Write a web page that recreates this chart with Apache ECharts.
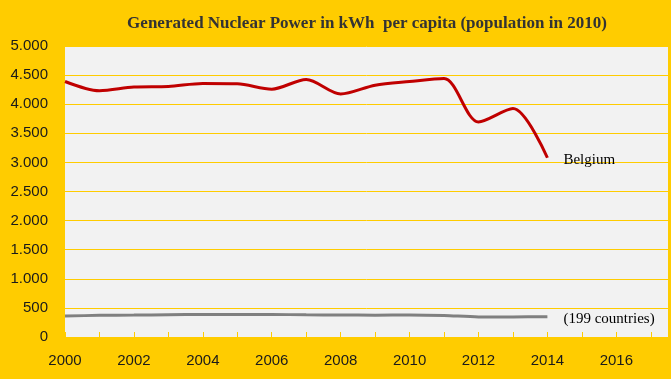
<!DOCTYPE html>
<html>
<head>
<meta charset="utf-8">
<script src="https://cdn.jsdelivr.net/npm/echarts@6/dist/echarts.min.js"></script>
<style>html,body{margin:0;padding:0;background:#FFCC00}#c{width:671px;height:379px}</style>
</head>
<body>
<div id="c"></div>
<script>
var years = [2000,2001,2002,2003,2004,2005,2006,2007,2008,2009,2010,2011,2012,2013,2014];
var belgium = [4390,4230,4295,4305,4355,4350,4258,4425,4177,4327,4390,4440,3695,3925,3080];
var world = [360,372,377,382,386,386,386,382,378,375,380,370,345,345,350];
var titleText = 'Generated Nuclear Power in kWh  per capita (population in 2010)';
var belgiumLabel = 'Belgium';
var worldLabel = '(199 countries)';

function pairs(vals){ return years.map(function(y,i){ return [y, vals[i]]; }); }

var chart = echarts.init(document.getElementById('c'), null, {renderer:'canvas'});
chart.setOption({
  backgroundColor: '#FFCC00',
  animation: false,
  title: {
    text: titleText, left: 362, top: 10, textAlign: 'center',
    textStyle: {fontFamily: 'Liberation Serif', fontWeight: 'bold', fontSize: 17, color: '#333333'}
  },
  grid: {left: 65, right: 0, top: 46, bottom: 42, show: true, backgroundColor: '#F2F2F2', borderWidth: 0},
  xAxis: {
    type: 'value', min: 2000, max: 2017.5, interval: 1,
    axisLine: {show: true, lineStyle: {color: '#FFCC00'}},
    axisTick: {show: true, inside: true, length: 5, lineStyle: {color: '#FFCC00'}},
    splitLine: {show: false},
    axisLabel: {
      color: '#1a1a1a', fontFamily: 'Liberation Sans', fontSize: 15, margin: 16,
      formatter: function(v){ return (Math.abs(v - Math.round(v)) < 1e-6 && Math.round(v) % 2 === 0) ? String(Math.round(v)) : ''; }
    }
  },
  yAxis: {
    type: 'value', min: 0, max: 5000, interval: 500,
    axisLine: {show: false}, axisTick: {show: false},
    splitLine: {show: true, lineStyle: {color: '#FFCC00', width: 1}},
    axisLabel: {
      color: '#1a1a1a', fontFamily: 'Liberation Sans', fontSize: 15, margin: 17,
      formatter: function(v){ return v >= 1000 ? Math.floor(v/1000) + '.' + String(v % 1000).padStart(3,'0') : String(v); }
    }
  },
  series: [
    {
      type: 'line', name: 'Belgium', data: pairs(belgium), smooth: 0.3, symbol: 'none',
      lineStyle: {color: '#C00000', width: 3},
      endLabel: {show: true, formatter: belgiumLabel, distance: 16, offset: [0, 2], color: '#000', fontFamily: 'Liberation Serif', fontSize: 15}
    },
    {
      type: 'line', name: 'World', data: pairs(world), smooth: 0.3, symbol: 'none',
      lineStyle: {color: '#808080', width: 3},
      endLabel: {show: true, formatter: worldLabel, distance: 16, offset: [0, 2], color: '#000', fontFamily: 'Liberation Serif', fontSize: 15}
    }
  ]
});
</script>
</body>
</html>
